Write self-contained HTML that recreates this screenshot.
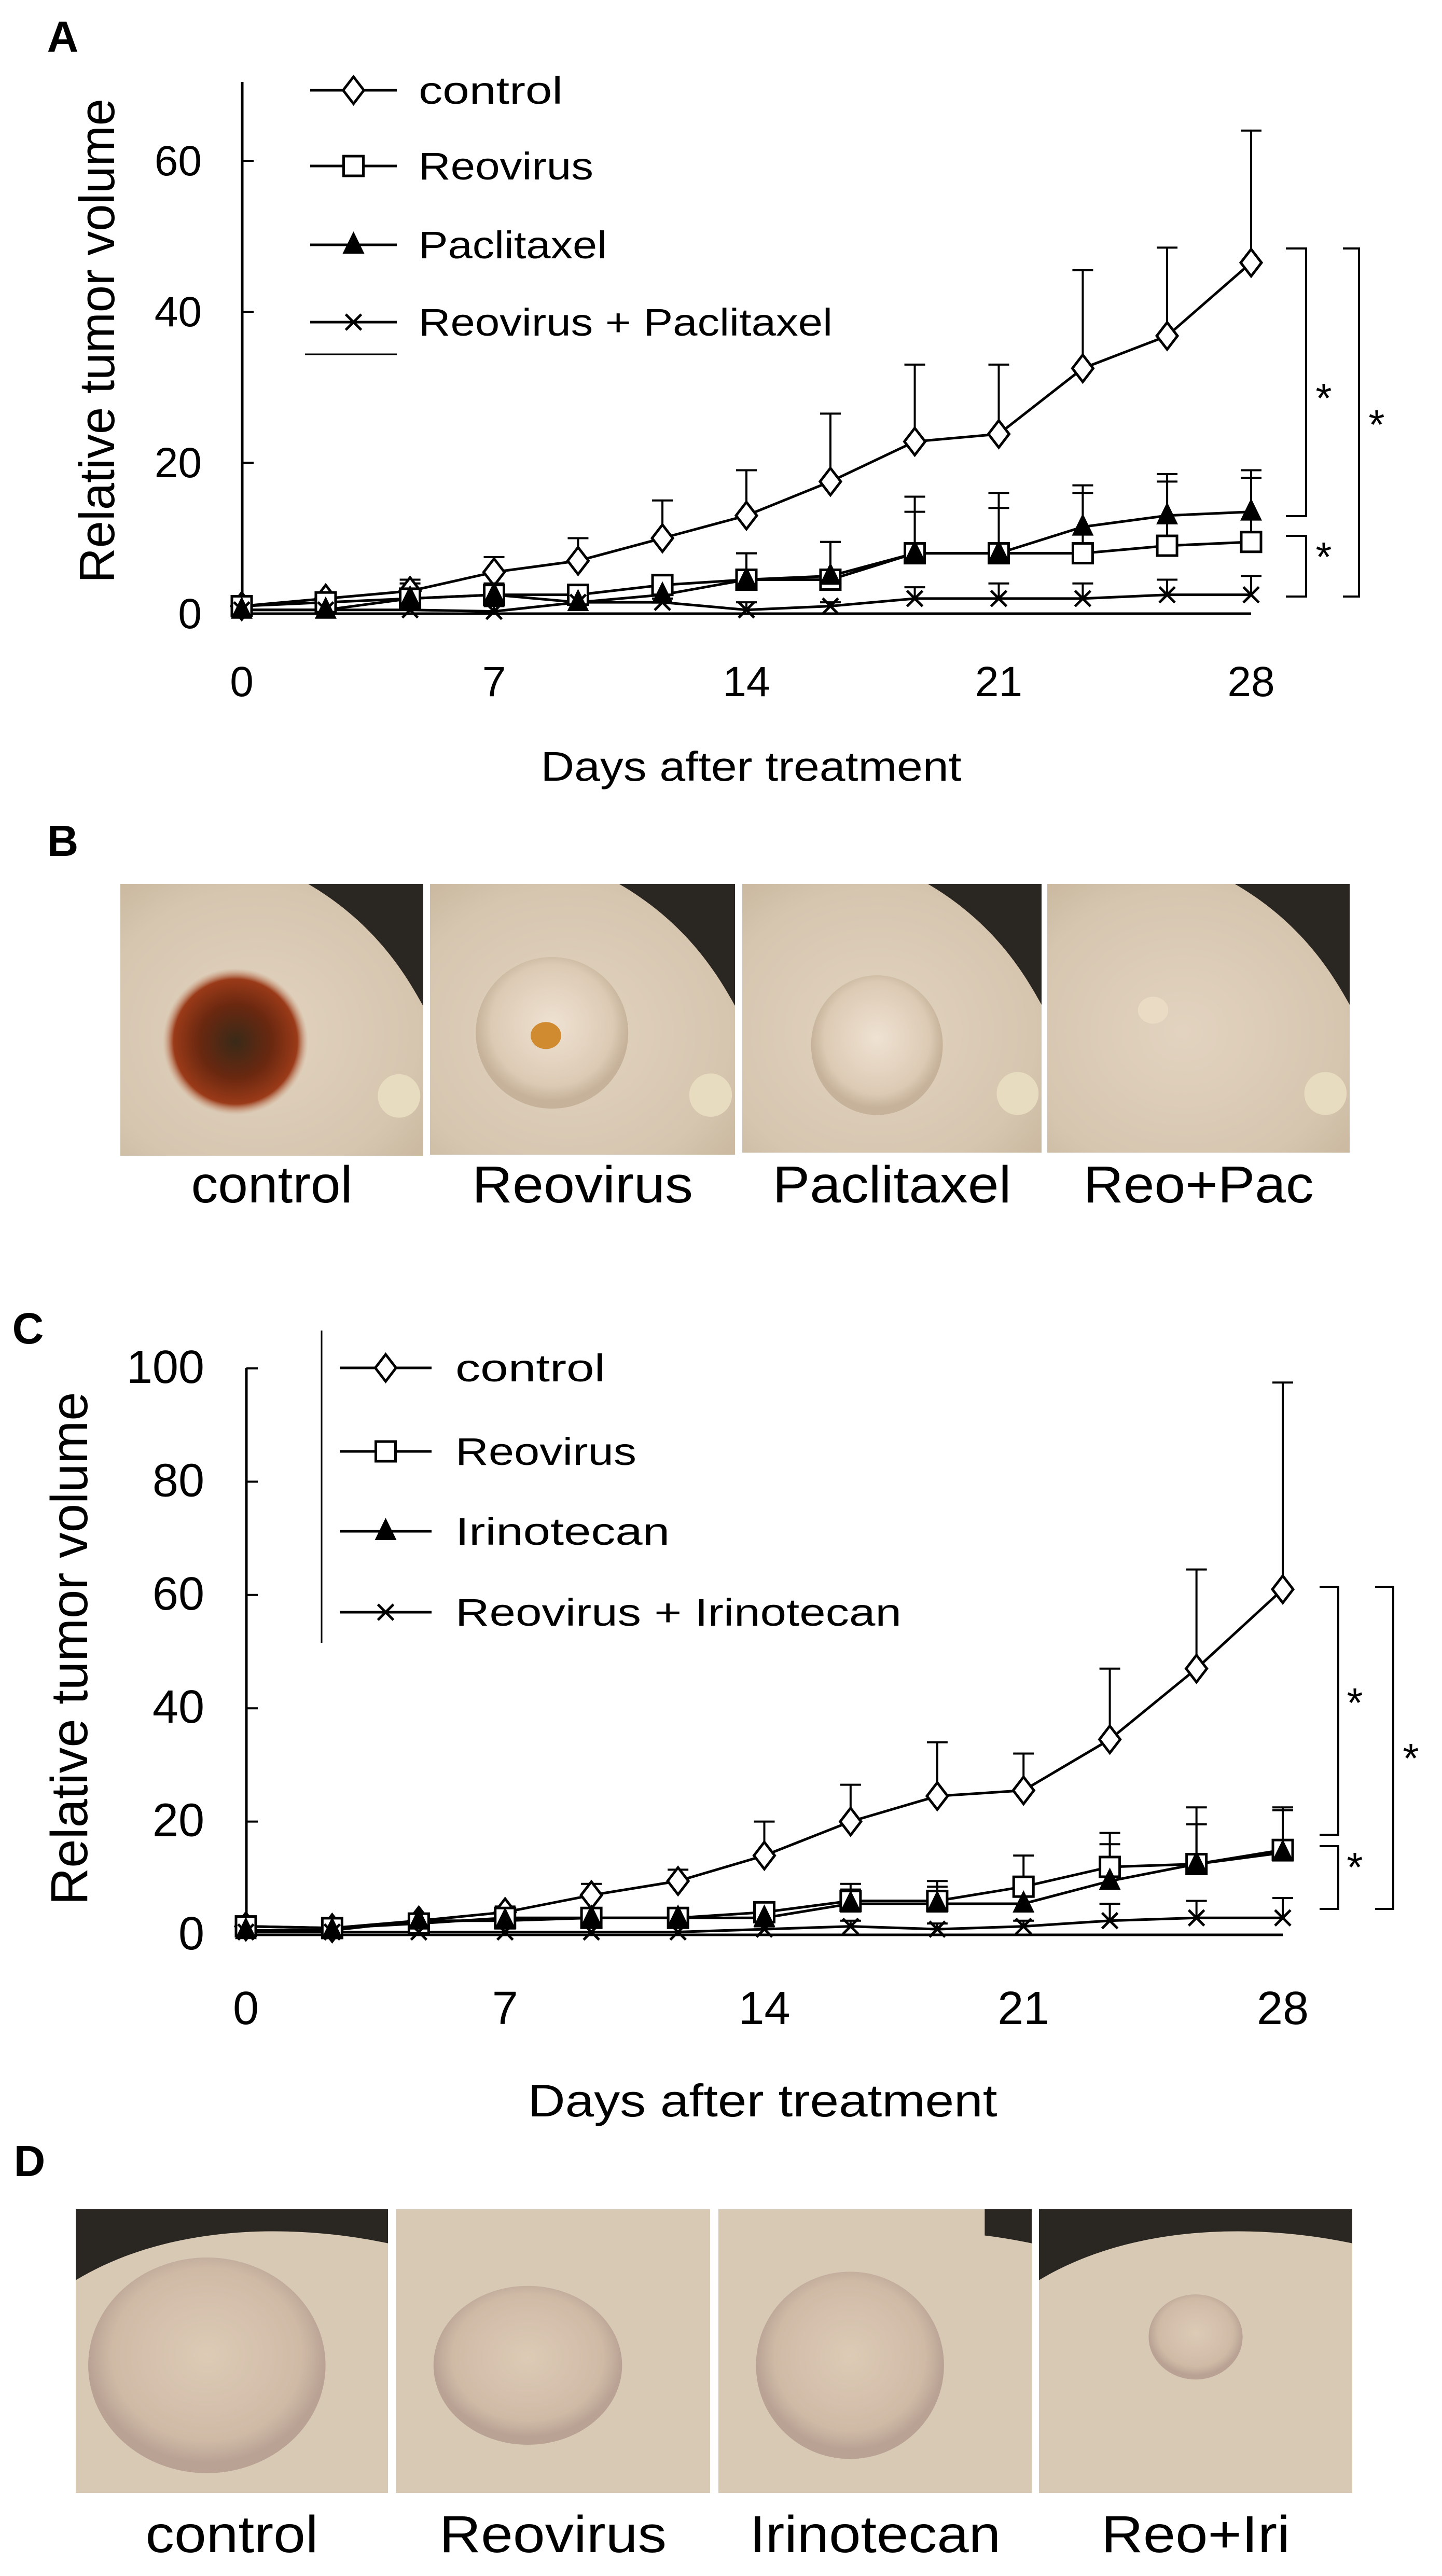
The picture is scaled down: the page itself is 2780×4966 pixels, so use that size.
<!DOCTYPE html>
<html><head><meta charset="utf-8"><style>
html,body{margin:0;padding:0;background:#fff;}
svg{display:block;}
text{font-family:"Liberation Sans",sans-serif;fill:#000;}
</style></head><body>
<svg id="fig" width="2780" height="4966" viewBox="0 0 2780 4966" xmlns="http://www.w3.org/2000/svg">
<defs>
<radialGradient id="skin" cx="45%" cy="55%" r="75%"><stop offset="0" stop-color="#e2d3c0"/><stop offset="0.7" stop-color="#d6c6b0"/><stop offset="1" stop-color="#c8b69c"/></radialGradient>
<radialGradient id="lesion" cx="50%" cy="50%" r="50%"><stop offset="0" stop-color="#3a2a18"/><stop offset="0.5" stop-color="#6a2810"/><stop offset="0.85" stop-color="#9a3a18"/><stop offset="1" stop-color="#c89070" stop-opacity="0"/></radialGradient>
<radialGradient id="bump" cx="50%" cy="45%" r="50%"><stop offset="0" stop-color="#efe2d2"/><stop offset="0.8" stop-color="#dccab4"/><stop offset="1" stop-color="#c6b29a"/></radialGradient>
<radialGradient id="tumD" cx="50%" cy="45%" r="50%"><stop offset="0" stop-color="#ddcbb6"/><stop offset="0.8" stop-color="#cfbaa6"/><stop offset="1" stop-color="#b9a294"/></radialGradient>
</defs>
<g id="panelA"></g>
<g id="panelB"></g>
<g id="panelC"></g>
<g id="panelD"></g>
</svg>
<script>
const days = [0,2.33,4.67,7,9.33,11.67,14,16.33,18.67,21,23.33,25.67,28];
const xTicks = [0,7,14,21,28];
const yTicksA = [0,20,40,60];
const yTicksC = [0,20,40,60,80,100];

const ctrlA   = [1,2,3,5.5,7,10,13,17.5,22.8,23.8,32.5,36.8,46.5];
const ctrlAHi = [1,2.5,4.5,7.5,10,15,19,26.5,33,33,45.5,48.5,64];
const reoA    = [1,1.5,2,2.5,2.5,3.8,4.5,4.5,8,8,8,9,9.5];
const reoAHi  = [1,2,3,3,3,4.5,8,9.5,13.5,14,16,17.5,18];
const pacA    = [0.5,0.5,2,2.5,1.5,2.5,4.5,5,8,8,11.5,13,13.5];
const pacAHi  = [1,1,4,4,3,4,8,9.5,15.5,16,17,18.5,19];
const comboA  = [0.5,0.5,0.5,0.3,1.5,1.5,0.5,1,2,2,2,2.5,2.5];
const comboAHi= [0.5,0.5,1,1,1.5,2,1.5,1.5,3.5,4,4,4.5,5];

const ctrlC   = [1.5,1.2,2.5,4,7,9.5,14,20,24.5,25.5,34.5,47,61];
const ctrlCHi = [1.5,1.2,3,5,9,11.5,20,26.5,34,32,47,64.5,97.5];
const reoC    = [1.5,1.2,2,3,3,3,4,6,6,8.5,12,12.5,15];
const reoCHi  = [1.5,1.2,2.5,4,4,4,5,9,9.5,14,18,22.5,22.5];
const iriC    = [0.8,0.8,2.5,2.5,3,3,3,5.5,5.5,5.5,9.5,12.5,14.5];
const iriCHi  = [0.8,0.8,3,3,4,4,4,8,8.5,8,16,19.5,22];
const comboC  = [0.5,0.5,0.5,0.5,0.5,0.5,1,1.5,1,1.5,2.5,3,3];
const comboCHi= [0.5,0.5,0.5,0.5,0.5,0.5,1.5,2.5,2,2.5,5.5,6,6.5];

const legendA = ["control","Reovirus","Paclitaxel","Reovirus + Paclitaxel"];
const legendC = ["control","Reovirus","Irinotecan","Reovirus + Irinotecan"];
const photoLabelsB = ["control","Reovirus","Paclitaxel","Reo+Pac"];
const photoLabelsD = ["control","Reovirus","Irinotecan","Reo+Iri"];

const NS="http://www.w3.org/2000/svg";
function mk(parent, tag, attrs, txt){
  const e=document.createElementNS(NS,tag);
  for(const k in attrs) e.setAttribute(k,attrs[k]);
  if(txt!==undefined) e.textContent=txt;
  parent.appendChild(e); return e;
}
function marker(g, type, cx, cy){
  let m;
  if(type==="diamond") m=mk(g,"polygon",{points:`${cx},${cy-26} ${cx+20},${cy} ${cx},${cy+26} ${cx-20},${cy}`,fill:"#fff",stroke:"#000","stroke-width":5});
  else if(type==="square") m=mk(g,"rect",{x:cx-19,y:cy-19,width:38,height:38,fill:"#fff",stroke:"#000","stroke-width":5});
  else if(type==="triangle") m=mk(g,"polygon",{points:`${cx},${cy-26} ${cx+21},${cy+17} ${cx-21},${cy+17}`,fill:"#000"});
  else { m=mk(g,"path",{d:`M${cx-15},${cy-15}L${cx+15},${cy+15}M${cx+15},${cy-15}L${cx-15},${cy+15}`,stroke:"#000","stroke-width":5}); }
  
  
}
function chart(g, c){
  const X=d=>c.x0+(d/28)*(c.x1-c.x0);
  const Y=v=>c.y0-v*c.ppu;
  const ax=mk(g,"line",{x1:c.axisX,y1:c.axisTop,x2:c.axisX,y2:Y(0),stroke:"#000","stroke-width":5});
   
  c.yTicks.forEach(t=>{
    const tk=mk(g,"line",{x1:c.axisX,y1:Y(t),x2:c.axisX+22,y2:Y(t),stroke:"#000","stroke-width":4});
     
    const tl=mk(g,"text",{x:c.tickRight,y:Y(t)+28,"text-anchor":"end","font-size":c.tickFont},String(t));
     
  });
  xTicks.forEach(t=>{
    const tl=mk(g,"text",{x:X(t),y:c.xTickY,"text-anchor":"middle","font-size":c.tickFont},String(t));
     
  });
  const base=mk(g,"line",{x1:X(0),y1:Y(0),x2:X(28),y2:Y(0),stroke:"#000","stroke-width":5});
   
  const xl=mk(g,"text",{x:c.xLabelX,y:c.xLabelY,"text-anchor":"middle","font-size":c.xLabelFont,textLength:c.xLabelLen,lengthAdjust:"spacingAndGlyphs"},"Days after treatment");
   
  const yl=mk(g,"text",{x:0,y:0,"text-anchor":"middle","font-size":c.yLabelFont,textLength:c.yLabelLen,lengthAdjust:"spacingAndGlyphs",transform:`translate(${c.yLabelX},${c.yLabelY}) rotate(-90)`},"Relative tumor volume");
   
  // series
  c.series.forEach(s=>{
    const sg=mk(g,"g",{});  
    s.hi.forEach((h,i)=>{
      if(h>s.vals[i]){
        const e=mk(sg,"path",{d:`M${X(days[i])},${Y(s.vals[i])}V${Y(h)}M${X(days[i])-20},${Y(h)}H${X(days[i])+20}`,stroke:"#000","stroke-width":4,fill:"none"});
         
      }
    });
    const ln=mk(sg,"polyline",{points:s.vals.map((v,i)=>X(days[i])+","+Y(v)).join(" "),fill:"none",stroke:"#000","stroke-width":5});
     
  });
  c.series.forEach(s=>{ s.vals.forEach((v,i)=>marker(g,s.type,X(days[i]),Y(v))); });
  // legend
  c.legend.forEach((lab,i)=>{
    const ly=c.legY[i];
    const lg=mk(g,"g",{});  
    mk(lg,"line",{x1:c.legX0,y1:ly,x2:c.legX1,y2:ly,stroke:"#000","stroke-width":5});
    marker(lg,c.series[i].type,(c.legX0+c.legX1)/2,ly);
    const t=mk(lg,"text",{x:c.legTextX,y:ly+26,"font-size":74,textLength:c.legLens[i],lengthAdjust:"spacingAndGlyphs"},lab);
     
  });
  // brackets
  c.brackets.forEach(b=>{
    const p=mk(g,"path",{d:`M${b.l},${b.t}H${b.x}V${b.b}H${b.l}`,fill:"none",stroke:"#000","stroke-width":4});
     
    const s=mk(g,"text",{x:b.sx,y:b.sy+30,"text-anchor":"middle","font-size":80},"*");
     
  });
}
function series(a,b,c,d,ah,bh,ch,dh,names){
  return [{name:names[0],type:"diamond",vals:a,hi:ah},{name:names[1],type:"square",vals:b,hi:bh},{name:names[2],type:"triangle",vals:c,hi:ch},{name:names[3],type:"cross",vals:d,hi:dh}];
}
chart(document.getElementById("panelA"),{
  x0:466,x1:2412,y0:1183,ppu:291/20,axisX:467,axisTop:158,yTicks:yTicksA,tickRight:389,tickFont:82,xTickY:1342,
  xLabelX:1448,xLabelY:1505,xLabelFont:80,xLabelLen:811,yLabelX:220,yLabelY:657,yLabelFont:96,yLabelLen:934,
  series:series(reoA&&ctrlA,reoA,pacA,comboA,ctrlAHi,reoAHi,pacAHi,comboAHi,["control","reovirus","paclitaxel","combo"]),
  legend:legendA,legY:[174,320,472,621],legX0:598,legX1:765,legTextX:807,legLens:[278,337,363,798],
  brackets:[{x:2518,l:2479,t:479,b:995,sx:2552,sy:765},{x:2518,l:2479,t:1033,b:1150,sx:2552,sy:1071},{x:2620,l:2589,t:479,b:1150,sx:2654,sy:816}]
});
(function(){const g=document.getElementById("panelA");mk(g,"line",{x1:588,y1:683,x2:765,y2:683,stroke:"#000","stroke-width":3});})();
chart(document.getElementById("panelC"),{
  x0:474,x1:2473,y0:3730,ppu:218.4/20,axisX:475,axisTop:2637,yTicks:yTicksC,tickRight:394,tickFont:90,xTickY:3902,
  xLabelX:1470,xLabelY:4080,xLabelFont:88,xLabelLen:905,yLabelX:168,yLabelY:3178,yLabelFont:100,yLabelLen:989,
  series:series(ctrlC,reoC,iriC,comboC,ctrlCHi,reoCHi,iriCHi,comboCHi,["control","reovirus","irinotecan","combo"]),
  legend:legendC,legY:[2637,2798,2952,3108],legX0:655,legX1:832,legTextX:878,legLens:[289,349,413,860],
  brackets:[{x:2580,l:2544,t:3059,b:3537,sx:2612,sy:3280},{x:2580,l:2544,t:3559,b:3680,sx:2612,sy:3597},{x:2686,l:2651,t:3059,b:3680,sx:2720,sy:3387}]
});
(function(){const g=document.getElementById("panelC");const l=mk(g,"line",{x1:620,y1:2565,x2:620,y2:3167,stroke:"#000","stroke-width":3});})();

// panel letters
[["A",121,100],["B",121,1650],["C",54,2590],["D",57,4195]].forEach(p=>{
  const t=mk(document.getElementById("fig"),"text",{x:p[1],y:p[2],"text-anchor":"middle","font-size":84,"font-weight":"bold"},p[0]);
   
});

// photos
function photos(g, boxes, labels, lens, labelY, kind){
  boxes.forEach((b,i)=>{
    const [x0,x1,y0,y1]=b; const w=x1-x0,h=y1-y0;
    const pg=mk(g,"g",{});  
    mk(pg,"rect",{x:x0,y:y0,width:w,height:h,fill:"#2a2622"});
    if(kind==="B"){
      mk(pg,"path",{d:`M${x0},${y0}H${x0+w*0.62}C${x0+w*0.85},${y0+h*0.15} ${x0+w*0.95},${y0+h*0.35} ${x1},${y0+h*0.45}V${y1}H${x0}Z`,fill:"url(#skin)"});
      mk(pg,"ellipse",{cx:x0+w*0.92,cy:y0+h*0.78,rx:w*0.07,ry:h*0.08,fill:"#e8dcc0"});
      if(i===0) mk(pg,"ellipse",{cx:x0+w*0.38,cy:y0+h*0.58,rx:w*0.24,ry:h*0.27,fill:"url(#lesion)"});
      if(i===1){ mk(pg,"ellipse",{cx:x0+w*0.4,cy:y0+h*0.55,rx:w*0.25,ry:h*0.28,fill:"url(#bump)"}); mk(pg,"ellipse",{cx:x0+w*0.38,cy:y0+h*0.56,rx:w*0.05,ry:h*0.05,fill:"#d08a30"}); }
      if(i===2) mk(pg,"ellipse",{cx:x0+w*0.45,cy:y0+h*0.6,rx:w*0.22,ry:h*0.26,fill:"url(#bump)"});
      if(i===3) mk(pg,"ellipse",{cx:x0+w*0.35,cy:y0+h*0.47,rx:w*0.05,ry:h*0.05,fill:"#eadcc4"});
    } else {
      mk(pg,"path",{d:`M${x0},${y0+h*0.25}C${x0+w*0.3},${y0+h*0.05} ${x0+w*0.7},${y0+h*0.05} ${x1},${y0+h*0.12}V${y1}H${x0}Z`,fill:"#d8c9b4"});
      if(i===1) mk(pg,"rect",{x:x0,y:y0,width:w,height:h*0.6,fill:"#d8c9b4"});
      if(i===2) mk(pg,"rect",{x:x0,y:y0,width:w*0.85,height:h*0.5,fill:"#d8c9b4"});
      const rx=[0.38,0.3,0.3,0.15][i], ry=[0.38,0.28,0.33,0.15][i];
      mk(pg,"ellipse",{cx:x0+w*(i===3?0.5:0.42),cy:y0+h*(i===3?0.45:0.55),rx:w*rx,ry:h*ry,fill:"url(#tumD)"});
    }
    const t=mk(g,"text",{x:(x0+x1)/2,y:labelY,"text-anchor":"middle","font-size":100,textLength:lens[i],lengthAdjust:"spacingAndGlyphs"},labels[i]);
     
  });
}
photos(document.getElementById("panelB"),[[232,816,1704,2228],[829,1417,1704,2226],[1431,2008,1704,2222],[2019,2602,1704,2222]],photoLabelsB,[311,426,460,444],2318,"B");
photos(document.getElementById("panelD"),[[146,748,4259,4806],[763,1369,4259,4806],[1385,1989,4259,4806],[2003,2607,4259,4806]],photoLabelsD,[333,438,484,364],4920,"D");
</script>
</body></html>
